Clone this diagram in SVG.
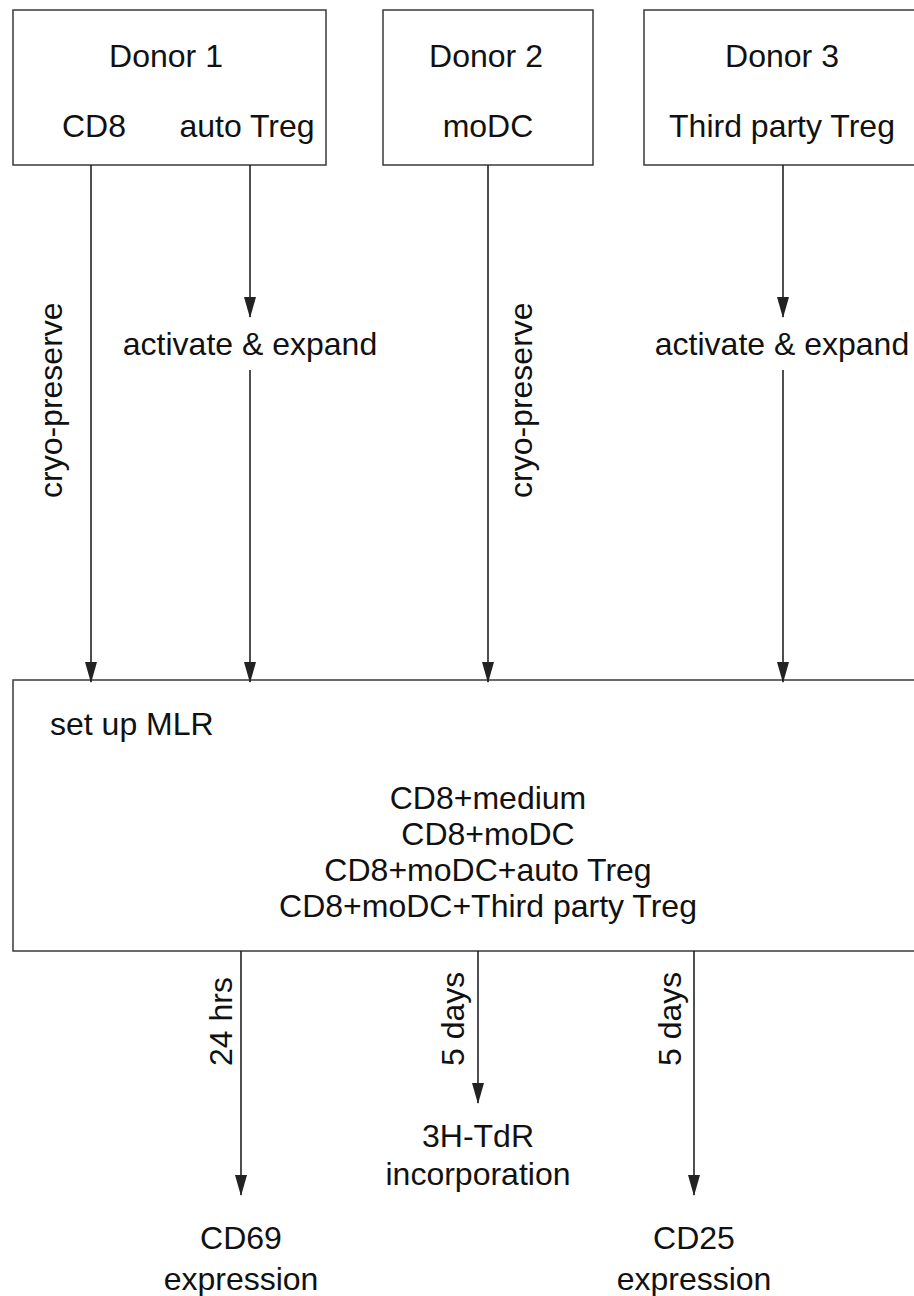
<svg xmlns="http://www.w3.org/2000/svg" width="914" height="1296" viewBox="0 0 914 1296">
<style>
.box{fill:#fff;stroke:#3a3a3a;stroke-width:1.5}
.t{font-family:"Liberation Sans",Arial,sans-serif;font-size:32px;fill:#111}
.c{text-anchor:middle}
.ln{stroke:#222;stroke-width:1.6;fill:none}
</style>
<defs>
<marker id="ah" markerUnits="userSpaceOnUse" markerWidth="22" markerHeight="12" refX="20" refY="6" orient="auto">
<path d="M0,0 L21,6 L0,12 Z" fill="#222"/>
</marker>
</defs>
<rect width="914" height="1296" fill="#fff"/>
<g id="donor1">
<rect class="box" x="13" y="10" width="313" height="155"/>
<text class="t c" x="166" y="67">Donor 1</text>
<text class="t c" x="94" y="137">CD8</text>
<text class="t c" x="247" y="137">auto Treg</text>
</g>
<g id="donor2">
<rect class="box" x="383" y="10" width="210" height="155"/>
<text class="t c" x="486" y="67">Donor 2</text>
<text class="t c" x="488" y="137">moDC</text>
</g>
<g id="donor3">
<rect class="box" x="644" y="10" width="290" height="155"/>
<text class="t c" x="782" y="67">Donor 3</text>
<text class="t c" x="782" y="137">Third party Treg</text>
</g>
<g id="mlr">
<rect class="box" x="13" y="680" width="920" height="271"/>
<text class="t" x="50" y="735">set up MLR</text>
<text class="t c" x="488" y="809">CD8+medium</text>
<text class="t c" x="488" y="845">CD8+moDC</text>
<text class="t c" x="488" y="881">CD8+moDC+auto Treg</text>
<text class="t c" x="488" y="917">CD8+moDC+Third party Treg</text>
</g>
<g id="step-activate1">
<text class="t c" x="250" y="355">activate &amp; expand</text>
</g>
<g id="step-activate3">
<text class="t c" x="782" y="355">activate &amp; expand</text>
</g>
<g id="out-cd69">
<text class="t c" x="241" y="1249">CD69</text>
<text class="t c" x="241" y="1290">expression</text>
</g>
<g id="out-3h">
<text class="t c" x="478" y="1147">3H-TdR</text>
<text class="t c" x="478" y="1185">incorporation</text>
</g>
<g id="out-cd25">
<text class="t c" x="694" y="1249">CD25</text>
<text class="t c" x="694" y="1290">expression</text>
</g>
<g id="connectors">
<line class="ln" x1="91" y1="165" x2="91" y2="682" marker-end="url(#ah)"/>
<line class="ln" x1="250" y1="165" x2="250" y2="317" marker-end="url(#ah)"/>
<line class="ln" x1="250" y1="370" x2="250" y2="682" marker-end="url(#ah)"/>
<line class="ln" x1="488" y1="165" x2="488" y2="682" marker-end="url(#ah)"/>
<line class="ln" x1="783" y1="165" x2="783" y2="317" marker-end="url(#ah)"/>
<line class="ln" x1="783" y1="370" x2="783" y2="682" marker-end="url(#ah)"/>
<line class="ln" x1="241" y1="951" x2="241" y2="1195" marker-end="url(#ah)"/>
<line class="ln" x1="478" y1="951" x2="478" y2="1103" marker-end="url(#ah)"/>
<line class="ln" x1="694" y1="951" x2="694" y2="1195" marker-end="url(#ah)"/>
<text class="t" transform="translate(62,498) rotate(-90)">cryo-preserve</text>
<text class="t" transform="translate(532,498) rotate(-90)">cryo-preserve</text>
<text class="t" transform="translate(232,1066) rotate(-90)">24 hrs</text>
<text class="t" transform="translate(464,1066) rotate(-90)">5 days</text>
<text class="t" transform="translate(681,1066) rotate(-90)">5 days</text>
</g>
</svg>
